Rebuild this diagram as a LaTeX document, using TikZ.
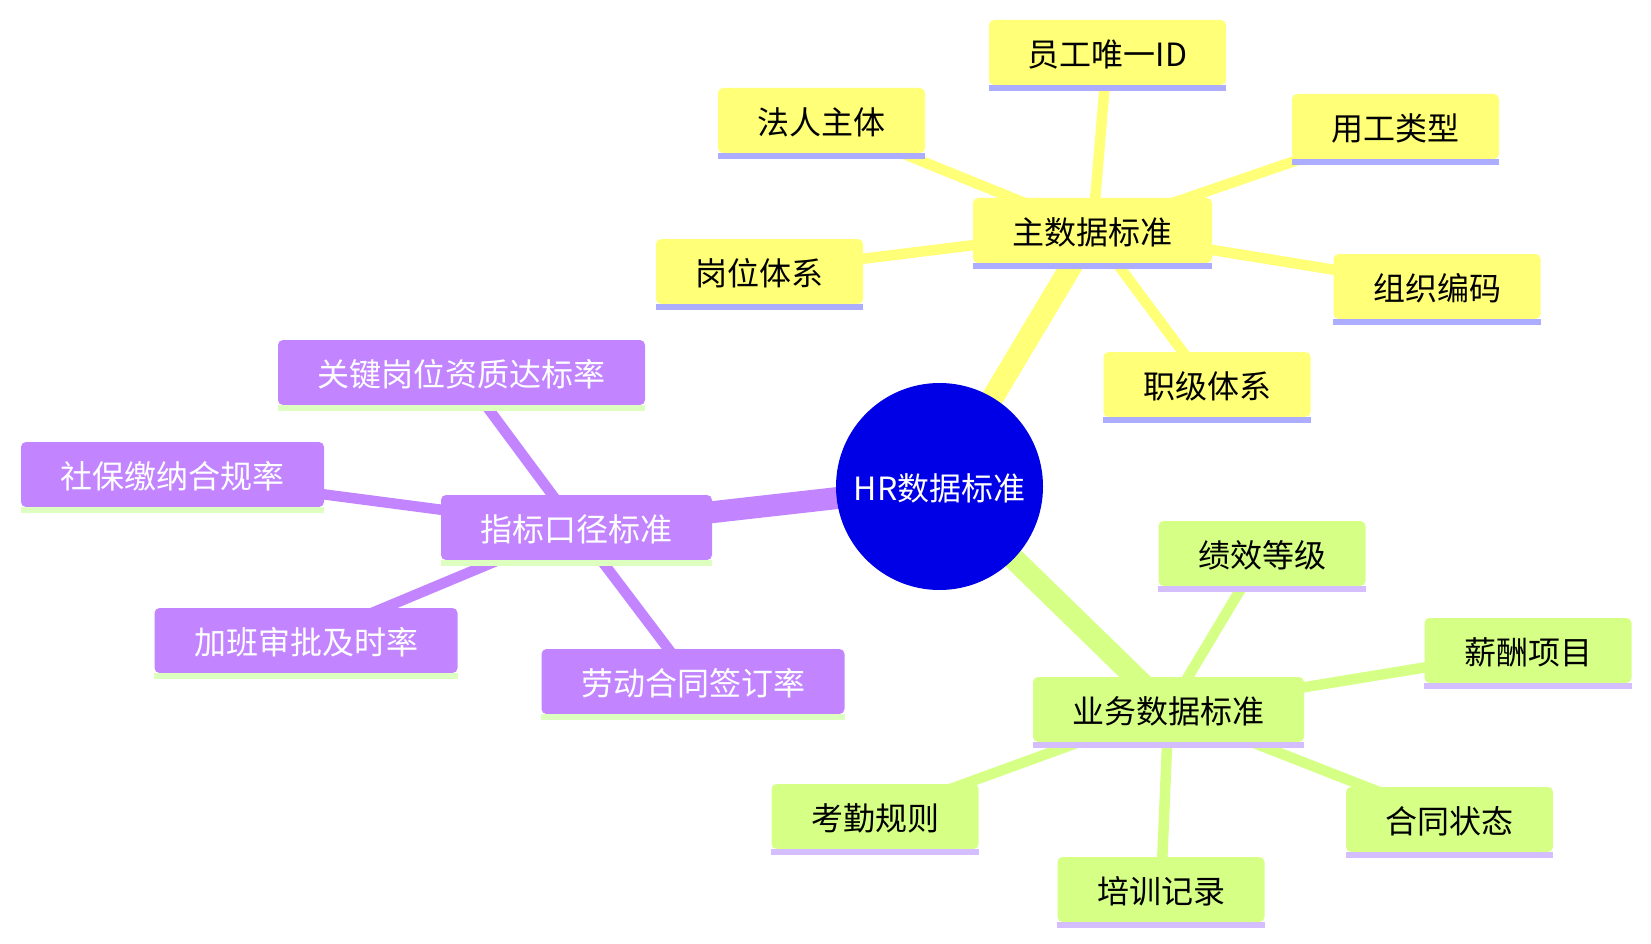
\documentclass[tikz,border=0pt]{standalone}
\usepackage{fontspec}
\newfontfamily\cjk{Noto Sans CJK SC}
\usetikzlibrary{backgrounds}
\definecolor{yfill}{HTML}{FFFF78}
\definecolor{yline}{HTML}{ADADFF}
\definecolor{pfill}{HTML}{C285FF}
\definecolor{pline}{HTML}{DDFFC0}
\definecolor{gfill}{HTML}{D6FF85}
\definecolor{gline}{HTML}{D4BEFF}
\definecolor{rootblue}{HTML}{0000E6}
\newcommand\ulbar[2]{\fill[#2] (#1.south west) rectangle ([yshift=-6pt]#1.south east);}
\tikzset{
  boxbase/.style={rectangle, rounded corners=5pt, inner sep=0pt, minimum height=65pt, text height=32pt, text depth=4pt, font=\cjk\fontsize{32}{38}\selectfont},
  ybox/.style={boxbase, fill=yfill, text=black},
  pbox/.style={boxbase, fill=pfill, text=white},
  gbox/.style={boxbase, fill=gfill, text=black},
  rootnode/.style={circle, fill=rootblue, text=white, inner sep=0pt, minimum size=207pt, text height=32pt, text depth=4pt, font=\cjk\fontsize{32}{38}\selectfont},
  thickedge/.style={line width=22pt},
  thinedge/.style={line width=10.5pt},
}
\begin{document}
\begin{tikzpicture}[x=1pt,y=-1pt]
\useasboundingbox (0,0) rectangle (1651,944);
% root
\node[rootnode] (root) at (939.5,486.5) {HR数据标准};
% yellow branch
\node[ybox, minimum width=239pt] (m1) at (1092.5,230.5) {主数据标准};
\node[ybox, minimum width=237pt] (e1) at (1107.5,52.5) {员工唯一ID};
\node[ybox, minimum width=207pt] (e2) at (821.5,120.5) {法人主体};
\node[ybox, minimum width=207pt] (e3) at (1395.5,126.5) {用工类型};
\node[ybox, minimum width=207pt] (e4) at (759.5,271.5) {岗位体系};
\node[ybox, minimum width=207pt] (e5) at (1437,286.5) {组织编码};
\node[ybox, minimum width=207pt] (e6) at (1207,384.5) {职级体系};
% purple branch
\node[pbox, minimum width=271pt] (m2) at (576.5,527.5) {指标口径标准};
\node[pbox, minimum width=367pt] (p1) at (461.5,372.5) {关键岗位资质达标率};
\node[pbox, minimum width=303pt] (p2) at (172.5,474.5) {社保缴纳合规率};
\node[pbox, minimum width=303pt] (p3) at (306,640.5) {加班审批及时率};
\node[pbox, minimum width=303pt] (p4) at (693,681.5) {劳动合同签订率};
% green branch
\node[gbox, minimum width=271pt] (m3) at (1168.5,709.5) {业务数据标准};
\node[gbox, minimum width=207pt] (g1) at (1262,553.5) {绩效等级};
\node[gbox, minimum width=207pt] (g2) at (1528,650.5) {薪酬项目};
\node[gbox, minimum width=207pt] (g3) at (875,816.5) {考勤规则};
\node[gbox, minimum width=207pt] (g4) at (1449.5,819.5) {合同状态};
\node[gbox, minimum width=207pt] (g5) at (1161,889.5) {培训记录};
% underline bars
\ulbar{m1}{yline}\ulbar{e1}{yline}\ulbar{e2}{yline}\ulbar{e3}{yline}
\ulbar{e4}{yline}\ulbar{e5}{yline}\ulbar{e6}{yline}
\ulbar{m2}{pline}\ulbar{p1}{pline}\ulbar{p2}{pline}\ulbar{p3}{pline}\ulbar{p4}{pline}
\ulbar{m3}{gline}\ulbar{g1}{gline}\ulbar{g2}{gline}\ulbar{g3}{gline}\ulbar{g4}{gline}\ulbar{g5}{gline}
% connectors
\begin{pgfonlayer}{background}
\draw[thickedge, yfill] (root.center) -- (m1.center);
\draw[thickedge, pfill] (root.center) -- (m2.center);
\draw[thickedge, gfill] (root.center) -- (m3.center);
\foreach \n in {e1,e2,e3,e4,e5,e6} \draw[thinedge, yfill] (m1.center) -- (\n.center);
\foreach \n in {p1,p2,p3,p4} \draw[thinedge, pfill] (m2.center) -- (\n.center);
\foreach \n in {g1,g2,g3,g4,g5} \draw[thinedge, gfill] (m3.center) -- (\n.center);
\end{pgfonlayer}
\end{tikzpicture}
\end{document}
